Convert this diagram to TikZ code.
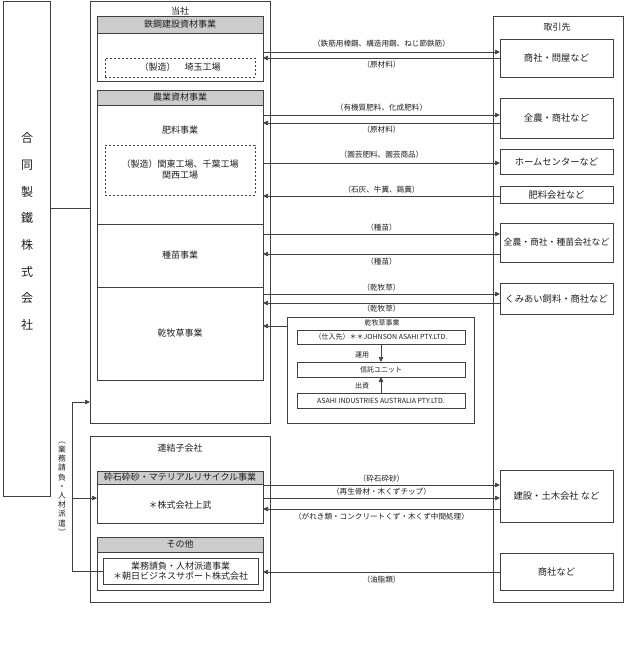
\documentclass[tikz,border=0pt]{standalone}
\usepackage{fontspec}
\setmainfont{Noto Sans CJK JP}
\usetikzlibrary{arrows.meta}
\definecolor{lc}{HTML}{404040}
\definecolor{tc}{HTML}{1E1E1E}
\definecolor{hd}{HTML}{CCCCCC}
\begin{document}
\begin{tikzpicture}[x=1pt,y=-1pt,
  box/.style={draw=lc, line width=0.65pt, inner sep=0pt, outer sep=0pt, text=tc, font=\fontsize{9}{11}\selectfont},
  tbox/.style={box, minimum width=113, font=\fontsize{9.3}{11}\selectfont},
  hdr/.style={box, fill=hd},
  dbox/.style={box, dash pattern=on 2pt off 2pt},
  txt/.style={inner sep=0pt, text=tc, font=\fontsize{9}{11}\selectfont, align=center},
  lab/.style={inner sep=0pt, text=tc, font=\fontsize{7.6}{9}\selectfont},
  small/.style={inner sep=0pt, text=tc, font=\fontsize{7}{9}\selectfont},
  arr/.style={draw=lc, line width=0.65pt, -{Triangle[length=5pt,width=4.5pt]}},
  ln/.style={draw=lc, line width=0.65pt}]
\useasboundingbox (0,0) rectangle (625,656);

% main company
\node[box, minimum width=47, minimum height=495] (main) at (26.5,248.5) {};
\node[txt, font=\fontsize{12}{26.7}\selectfont] (mainT) at (27,231.5) {合\\同\\製\\鐵\\株\\式\\会\\社};

% 当社
\node[box, minimum width=180, minimum height=422] (tosha) at (180,212) {};
\node[txt] (toshaT) at (180,11) {当社};

\node[box, minimum width=166, minimum height=65] (tekko) at (180,48.5) {};
\node[hdr, minimum width=166, minimum height=17] (tekkoH) at (180,24.5) {鉄鋼建設資材事業};
\node[dbox, minimum width=150, minimum height=19] (tekkoD) at (180,67.5) {（製造）　埼玉工場};

\node[hdr, minimum width=166, minimum height=15] (nogyoH) at (180,97.5) {農業資材事業};
\node[box, minimum width=166, minimum height=119] (hiryo) at (180,164.5) {};
\node[txt] (hiryoT) at (180,130) {肥料事業};
\node[dbox, minimum width=150, minimum height=50, align=center] (hiryoD) at (180,170) {（製造）関東工場、千葉工場\\関西工場};
\node[box, minimum width=166, minimum height=63] (shubyo) at (180,255.5) {種苗事業};
\node[box, minimum width=166, minimum height=93] (bokuso) at (180,333.5) {乾牧草事業};

% 乾牧草事業 inner
\node[box, minimum width=187, minimum height=106] (kanbo) at (380.5,370) {};
\node[small] (kanboT) at (382,323) {乾牧草事業};
\node[box, minimum width=168, minimum height=14, font=\fontsize{7}{9}\selectfont] (johnson) at (381,337) {（仕入先）＊＊JOHNSON ASAHI PTY.LTD.};
\node[box, minimum width=168, minimum height=15, font=\fontsize{7}{9}\selectfont] (shintaku) at (381,369.5) {信託ユニット};
\node[box, minimum width=168, minimum height=15, font=\fontsize{7}{9}\selectfont] (asahi) at (381,400.5) {ASAHI INDUSTRIES AUSTRALIA PTY.LTD.};
\node[small] (unyo) at (362,355) {運用};
\node[small] (shusshi) at (362,386) {出資};
\draw[arr] (johnson.south) -- (shintaku.north);
\draw[arr] (asahi.north) -- (shintaku.south);

% 取引先
\node[box, minimum width=130, minimum height=586] (tori) at (558,309) {};
\node[txt] (toriT) at (557,27) {取引先};
\node[tbox, minimum height=38] (t1) at (556.5,58) {商社・問屋など};
\node[tbox, minimum height=40] (t2) at (556.5,118) {全農・商社など};
\node[tbox, minimum height=25] (t3) at (556.5,161.5) {ホームセンターなど};
\node[tbox, minimum height=17] (t4) at (556.5,194.5) {肥料会社など};
\node[tbox, minimum height=39, font=\fontsize{8.8}{11}\selectfont] (t5) at (556.5,242.5) {全農・商社・種苗会社など};
\node[tbox, minimum height=31] (t6) at (556.5,298.5) {くみあい飼料・商社など};
\node[tbox, minimum height=52] (t7) at (556.5,496) {建設・土木会社 など};
\node[tbox, minimum height=37] (t8) at (556.5,571.5) {商社など};

% 連結子会社
\node[box, minimum width=180, minimum height=166] (renk) at (180,519) {};
\node[txt] (renkT) at (180,448) {連結子会社};
\node[box, minimum width=166, minimum height=52] (saiseki) at (180,497) {};
\node[hdr, minimum width=166, minimum height=13] (saisekiH) at (180,477.5) {砕石砕砂・マテリアルリサイクル事業};
\node[txt] (saisekiT) at (180,505) {＊株式会社上武};
\node[box, minimum width=166, minimum height=53] (sonota) at (180,563.5) {};
\node[hdr, minimum width=166, minimum height=15] (sonotaH) at (180,544.5) {その他};
\node[box, minimum width=155, minimum height=26, align=center, font=\fontsize{9}{10.5}\selectfont] (gyomu) at (180.5,571) {業務請負・人材派遣事業\\＊朝日ビジネスサポート株式会社};

% main -> 当社
\draw[ln] (main.east |- 0,208) -- (tosha.west |- 0,208);

% 業務請負 connector
\coordinate (jb) at (72,402);
\coordinate (jm) at (72,498);
\draw[arr] (gyomu.west) -| (jb) -- (tosha.west |- jb);
\draw[arr] (jm) -- (saiseki.west |- jm);
\node[txt, font=\fontsize{7.8}{9.2}\selectfont] (gyomuL) at (62,488.5) {︵\\業\\務\\請\\負\\・\\人\\材\\派\\遣\\︶};

% trade arrows
\draw[arr] (tekko.east |- 0,52) -- (t1.west |- 0,52);
\draw[arr] (t1.west |- 0,58) -- (tekko.east |- 0,58);
\node[lab] (a1) at (381.5,44) {（鉄筋用棒鋼、構造用鋼、ねじ節鉄筋）};
\node[lab] (a2) at (381.5,65) {（原材料）};

\draw[arr] (hiryo.east |- 0,115) -- (t2.west |- 0,115);
\draw[arr] (t2.west |- 0,123) -- (hiryo.east |- 0,123);
\node[lab] (a3) at (381.5,108) {（有機質肥料、化成肥料）};
\node[lab] (a4) at (381.5,130) {（原材料）};

\draw[arr] (hiryo.east |- 0,163) -- (t3.west |- 0,163);
\node[lab] (a5) at (381.5,155) {（園芸肥料、園芸商品）};
\draw[arr] (t4.west |- 0,196) -- (hiryo.east |- 0,196);
\node[lab] (a6) at (381.5,189.5) {（石灰、牛糞、鶏糞）};

\draw[arr] (shubyo.east |- 0,234) -- (t5.west |- 0,234);
\draw[arr] (t5.west |- 0,254) -- (shubyo.east |- 0,254);
\node[lab] (a7) at (381.5,228) {（種苗）};
\node[lab] (a8) at (381.5,262) {（種苗）};

\draw[arr] (bokuso.east |- 0,294) -- (t6.west |- 0,294);
\draw[arr] (t6.west |- 0,303) -- (bokuso.east |- 0,303);
\node[lab] (a9) at (381.5,288) {（乾牧草）};
\node[lab] (a10) at (381.5,309) {（乾牧草）};

\draw[arr] (kanbo.west |- 0,326) -- (bokuso.east |- 0,326);

\draw[arr] (saiseki.east |- 0,485) -- (t7.west |- 0,485);
\draw[arr] (saiseki.east |- 0,498) -- (t7.west |- 0,498);
\draw[arr] (t7.west |- 0,509) -- (saiseki.east |- 0,509);
\node[lab] (a11) at (381.5,479) {（砕石砕砂）};
\node[lab] (a12) at (381.5,492) {（再生骨材・木くずチップ）};
\node[lab] (a13) at (381.5,517) {（がれき類・コンクリートくず・木くず中間処理）};

\draw[arr] (t8.west |- 0,572) -- (sonota.east |- 0,572);
\node[lab] (a14) at (381.5,579.5) {（油脂類）};
\end{tikzpicture}
\end{document}
